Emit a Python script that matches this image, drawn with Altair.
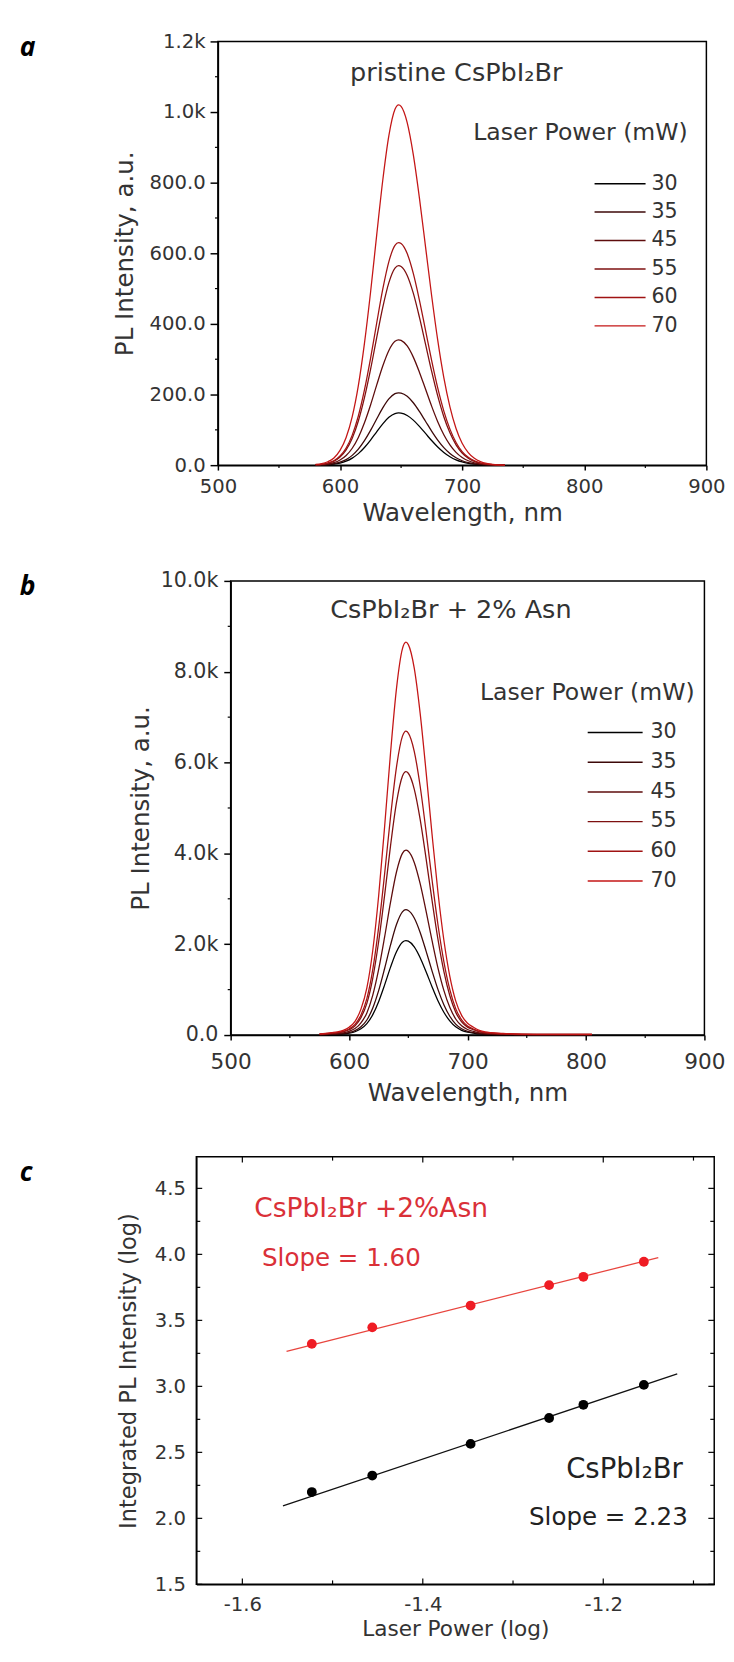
import altair as alt
import pandas as pd

FONT = "DejaVu Sans"
LETTER_FONT = "Open Sans"
INK = "#333333"

# ---------------- data ----------------
powers = ["30", "35", "45", "55", "60", "70"]
curve_colors = ["#000000", "#3c0808", "#5e0c0c", "#7e1010", "#a01313", "#c41616"]

# panel a : pristine CsPbI2Br spectra
wl_a = [580, 585, 590, 595, 600, 605, 610, 615, 620, 625, 630, 635, 640, 645, 648,
        650, 655, 660, 665, 670, 675, 680, 685, 690, 695, 700, 705, 710, 715, 720,
        725, 730, 735]
pl_a_30 = [0.3, 0.6, 1.4, 3.0, 6.1, 11.4, 20.0, 32.7, 50.0, 71.0, 94.4, 117.1, 135.4, 146.2, 148,
           147.4, 140.7, 127.6, 109.8, 89.8, 69.7, 51.4, 36.0, 24.0, 15.1, 9.0, 5.2, 2.8, 1.4, 0.7,
           0.3, 0.1, 0.1]
pl_a_35 = [0.4, 0.8, 1.9, 4.1, 8.4, 15.8, 27.7, 45.3, 69.3, 98.4, 130.8, 162.2, 187.6, 202.5, 205,
           204.2, 195.0, 176.7, 152.1, 124.4, 96.6, 71.1, 49.8, 33.2, 20.9, 12.5, 7.2, 3.9, 2.0, 1.0,
           0.5, 0.2, 0.1]
pl_a_45 = [0.7, 1.4, 3.4, 7.1, 14.6, 27.3, 47.9, 78.5, 120.0, 170.4, 226.5, 280.8, 324.8, 350.7, 355,
           353.6, 337.6, 306.0, 263.4, 215.5, 167.2, 123.2, 86.3, 57.5, 36.2, 21.7, 12.4, 6.7, 3.4, 1.7,
           0.8, 0.4, 0.1]
pl_a_55 = [1.1, 2.3, 5.4, 11.3, 23.2, 43.5, 76.3, 124.9, 191.0, 271.2, 360.5, 446.9, 517.0, 558.2, 565,
           562.7, 537.3, 487.0, 419.2, 343.0, 266.1, 196.1, 137.3, 91.5, 57.6, 34.5, 19.8, 10.7, 5.5, 2.7,
           1.2, 0.6, 0.2]
pl_a_60 = [1.3, 2.5, 6.0, 12.6, 25.8, 48.5, 85.1, 139.2, 212.9, 302.4, 401.9, 498.3, 576.5, 622.4, 630,
           627.5, 599.1, 543.1, 467.5, 382.4, 296.7, 218.6, 153.1, 102.1, 64.3, 38.4, 22.1, 12.0, 6.1, 3.0,
           1.4, 0.6, 0.3]
pl_a_70 = [2.0, 4.1, 9.7, 20.4, 41.8, 78.5, 137.7, 225.4, 344.8, 489.6, 650.8, 806.8, 933.3, 1007.8, 1020,
           1015.9, 970.0, 879.2, 756.8, 619.1, 480.4, 353.9, 247.9, 165.2, 104.0, 62.2, 35.7, 19.4, 9.9, 4.8,
           2.2, 1.0, 0.4]

# panel b : CsPbI2Br + 2% Asn spectra
wl_b = [575, 580, 585, 590, 595, 600, 605, 610, 615, 620, 625, 630, 635, 640, 645, 648,
        650, 655, 660, 665, 670, 675, 680, 685, 690, 695, 700, 705, 710, 715, 720,
        730, 740, 760, 780, 805]
pl_b_30 = [6, 8, 12, 17, 25, 42, 73, 137, 250, 449, 740, 1104, 1496, 1835, 2045, 2080,
           2068, 1943, 1704, 1394, 1065, 757, 503, 312, 181, 104, 62, 42, 25, 17, 12,
           8, 6, 4, 4, 4]
pl_b_35 = [8, 11, 17, 22, 33, 55, 97, 182, 331, 596, 983, 1466, 1984, 2434, 2713, 2760,
           2743, 2578, 2260, 1849, 1413, 1005, 668, 414, 240, 138, 83, 55, 33, 22, 17,
           11, 8, 6, 6, 6]
pl_b_45 = [12, 16, 24, 33, 49, 81, 142, 269, 488, 879, 1449, 2161, 2926, 3590, 4001, 4070,
           4046, 3801, 3333, 2727, 2084, 1481, 985, 611, 354, 204, 122, 81, 49, 33, 24,
           16, 12, 8, 8, 8]
pl_b_55 = [17, 23, 35, 46, 70, 116, 203, 383, 696, 1253, 2065, 3080, 4170, 5116, 5701, 5800,
           5765, 5417, 4750, 3886, 2970, 2111, 1404, 870, 505, 290, 174, 116, 70, 46, 35,
           23, 17, 12, 12, 12]
pl_b_60 = [20, 27, 40, 54, 80, 134, 234, 442, 803, 1445, 2382, 3552, 4810, 5901, 6576, 6690,
           6650, 6248, 5479, 4482, 3425, 2435, 1619, 1004, 582, 335, 201, 134, 80, 54, 40,
           27, 20, 13, 13, 13]
pl_b_70 = [26, 35, 52, 69, 104, 173, 303, 571, 1038, 1868, 3079, 4593, 6219, 7629, 8503, 8650,
           8598, 8079, 7084, 5796, 4429, 3149, 2093, 1298, 753, 433, 260, 173, 104, 69, 52,
           35, 26, 17, 17, 17]

# panel c : log-log integrated PL
log_power = [-1.523, -1.456, -1.347, -1.260, -1.222, -1.155]
log_pl_asn = [3.322, 3.447, 3.612, 3.767, 3.830, 3.944]
log_pl_pristine = [2.199, 2.324, 2.564, 2.760, 2.860, 3.011]
fit_x_asn = [-1.551, -1.139]
fit_y_asn = [3.265, 3.976]
fit_x_pristine = [-1.555, -1.118]
fit_y_pristine = [2.094, 3.095]

# axis ticks
x_ticks_ab = [500, 600, 700, 800, 900]
x_minor_ab = [550, 650, 750, 850]
a_y_ticks = [0, 200, 400, 600, 800, 1000, 1200]
a_y_minor = [100, 300, 500, 700, 900, 1100]
b_y_ticks = [0, 2000, 4000, 6000, 8000, 10000]
b_y_minor = [1000, 3000, 5000, 7000, 9000]
c_x_ticks = [-1.6, -1.4, -1.2]
c_x_minor = [-1.5, -1.3, -1.1]
c_y_ticks = [1.5, 2.0, 2.5, 3.0, 3.5, 4.0, 4.5]
c_y_minor = [1.75, 2.25, 2.75, 3.25, 3.75, 4.25]

RED_PT = "#ef1c24"
RED_LINE = "#e8453e"
RED_TXT = "#da3038"


def one():
    return pd.DataFrame({"k": [0]})


def anchor(xrel, ytop, ybot):
    # invisible rule fixing the panel's outer bounds
    return alt.Chart(one()).mark_rule(opacity=0, strokeWidth=1).encode(
        x=alt.value(xrel), y=alt.value(ytop), y2=alt.value(ybot))


def txt(t, x, y, size, align="left", color=INK, baseline="middle", font=FONT, **kw):
    return alt.Chart(one()).mark_text(text=t, align=align, baseline=baseline, fontSize=size,
                                      color=color, font=font, **kw).encode(
        x=alt.value(x), y=alt.value(y))


def legend_layers(color, y0, dy, x0, x1, xl, fs):
    df = pd.DataFrame({"power": powers, "rank": list(range(len(powers)))})
    base = alt.Chart(df).transform_calculate(ly=f"{y0} + datum.rank * {dy}")
    lines = base.mark_rule(strokeWidth=1.5).encode(
        x=alt.value(x0), x2=alt.value(x1),
        y=alt.Y("ly:Q", scale=None), color=color)
    labels = base.mark_text(align="left", baseline="middle", fontSize=fs, color=INK, font=FONT).encode(
        x=alt.value(xl), y=alt.Y("ly:Q", scale=None), text="power:N")
    return [lines, labels]


def spacer():
    return alt.Chart(one()).mark_point(opacity=0).encode(
        x=alt.value(0), y=alt.value(0)
    ).properties(width=1, height=1, view=alt.ViewBackground(strokeOpacity=0))


def spectrum_panel(wl, series, ymax, y_ticks, y_minor, y_expr, g):
    rows = []
    for p in powers:
        for w, v in zip(wl, series[p]):
            rows.append({"wl": w, "I": v, "power": p})
    df = pd.DataFrame(rows)
    W, H = g["w"], g["h"]
    xs = alt.Scale(domain=[500, 900], nice=False, zero=False)
    ys = alt.Scale(domain=[0, ymax], nice=False)
    xaxis = alt.Axis(values=x_ticks_ab, format="d", title="Wavelength, nm", tickSize=5,
                     labelPadding=g["xlp"], labelFontSize=g["xlfs"], titleFontSize=25,
                     titlePadding=g["xtp"], labelFlush=False, labelOverlap=False)
    yaxis = alt.Axis(values=y_ticks, labelExpr=y_expr, title="PL Intensity, a.u.", tickSize=g["ytk"],
                     labelPadding=g["ylp"], labelFontSize=g["ylfs"], titleFontSize=25,
                     titlePadding=g["ytp"], labelOverlap=False)
    color = alt.Color("power:N", scale=alt.Scale(domain=powers, range=curve_colors), legend=None)
    lines = alt.Chart(df).mark_line(strokeWidth=1.3, interpolate="monotone").encode(
        x=alt.X("wl:Q", scale=xs, axis=xaxis),
        y=alt.Y("I:Q", scale=ys, axis=yaxis),
        color=color,
    )
    xminor = alt.Chart(pd.DataFrame({"wl": x_minor_ab})).mark_rule(color="black", strokeWidth=1.2).encode(
        x=alt.X("wl:Q", scale=xs, axis=xaxis), y=alt.value(H), y2=alt.value(H + 3))
    yminor = alt.Chart(pd.DataFrame({"I": y_minor})).mark_rule(color="black", strokeWidth=1.2).encode(
        y=alt.Y("I:Q", scale=ys, axis=yaxis), x=alt.value(0), x2=alt.value(-3))
    layers = [anchor(-g["ext"], g["at"], g["ab"]), lines, xminor, yminor]
    layers += legend_layers(color, g["ly0"], g["ldy"], g["lx0"], g["lx1"], g["lxl"], g["lfs"])
    layers.append(txt("Laser Power (mW)", g["ltx"], g["lty"], 24, align="right"))
    layers.append(txt(g["title"], g["tx"], g["ty"], 26, align="center"))
    layers.append(txt(g["letter"], -g["ext"], g["lby"], 27, baseline="alphabetic", color="black",
                      font=LETTER_FONT, fontWeight="bold", fontStyle="italic"))
    panel = alt.layer(*layers).properties(width=W, height=H)
    return alt.hconcat(spacer(), panel, spacing=0)


# ---------------- panel a ----------------
geom_a = dict(w=498, h=432, ext=202, at=-12, ab=535, lby=15,
              xlp=7, xlfs=20, xtp=4, ytk=8, ylp=5, ylfs=20, ytp=12,
              ly0=145, ldy=29, lx0=384, lx1=436, lxl=442, lfs=21,
              ltx=479, lty=93, title="pristine CsPbI\u2082Br", tx=243, ty=32, letter="a")
panel_a = spectrum_panel(
    wl_a,
    {"30": pl_a_30, "35": pl_a_35, "45": pl_a_45, "55": pl_a_55, "60": pl_a_60, "70": pl_a_70},
    1200, a_y_ticks, a_y_minor,
    "datum.value >= 1000 ? format(datum.value / 1000, '.1f') + 'k' : format(datum.value, '.1f')",
    geom_a)

# ---------------- panel b ----------------
geom_b = dict(w=483, h=463, ext=215, at=-13, ab=542, lby=14,
              xlp=12, xlfs=22, xtp=9, ytk=7, ylp=6, ylfs=21, ytp=7,
              ly0=154.5, ldy=30.3, lx0=364, lx1=420, lxl=428, lfs=21,
              ltx=473, lty=114.5, title="CsPbI\u2082Br + 2% Asn", tx=224.5, ty=30, letter="b")
panel_b = spectrum_panel(
    wl_b,
    {"30": pl_b_30, "35": pl_b_35, "45": pl_b_45, "55": pl_b_55, "60": pl_b_60, "70": pl_b_70},
    10000, b_y_ticks, b_y_minor,
    "datum.value == 0 ? '0.0' : format(datum.value / 1000, '.1f') + 'k'",
    geom_b)

# ---------------- panel c ----------------
WC, HC = 528, 436
xs_c = alt.Scale(domain=[-1.651, -1.077], nice=False, zero=False)
ys_c = alt.Scale(domain=[1.5, 4.74], nice=False, zero=False)
xaxis_c = alt.Axis(values=c_x_ticks, ticks=False, tickSize=0, labelPadding=11, labelFontSize=20,
                   labelExpr="replace(format(datum.value, '.1f'), '\u2212', '-')",
                   title="Laser Power (log)", titleFontSize=22, titlePadding=4,
                   labelFlush=False, labelOverlap=False)
yaxis_c = alt.Axis(values=c_y_ticks, ticks=False, tickSize=0, labelPadding=11, labelFontSize=20,
                   format=".1f", title="Integrated PL Intensity (log)", titleFontSize=23,
                   titlePadding=14, labelOverlap=False)


def enc_c(chart):
    return chart.encode(x=alt.X("lp:Q", scale=xs_c, axis=xaxis_c),
                        y=alt.Y("li:Q", scale=ys_c, axis=yaxis_c))


fit_asn = enc_c(alt.Chart(pd.DataFrame({"lp": fit_x_asn, "li": fit_y_asn})).mark_line(
    strokeWidth=1.3, color=RED_LINE))
fit_pri = enc_c(alt.Chart(pd.DataFrame({"lp": fit_x_pristine, "li": fit_y_pristine})).mark_line(
    strokeWidth=1.3, color="#111111"))
pts_asn = enc_c(alt.Chart(pd.DataFrame({"lp": log_power, "li": log_pl_asn})).mark_circle(
    size=100, opacity=1, color=RED_PT))
pts_pri = enc_c(alt.Chart(pd.DataFrame({"lp": log_power, "li": log_pl_pristine})).mark_circle(
    size=100, opacity=1, color="#000000"))


def xticks_c(vals, y1, y2):
    return alt.Chart(pd.DataFrame({"lp": vals})).mark_rule(color="black", strokeWidth=1.2).encode(
        x=alt.X("lp:Q", scale=xs_c, axis=xaxis_c), y=alt.value(y1), y2=alt.value(y2))


def yticks_c(vals, x1, x2):
    return alt.Chart(pd.DataFrame({"li": vals})).mark_rule(color="black", strokeWidth=1.2).encode(
        y=alt.Y("li:Q", scale=ys_c, axis=yaxis_c), x=alt.value(x1), x2=alt.value(x2))


EXT_C = 180
panel_c_layer = alt.layer(
    anchor(-EXT_C, -42.5, 492.5),
    fit_asn, fit_pri, pts_asn, pts_pri,
    xticks_c(c_x_ticks, HC, HC - 6), xticks_c(c_x_minor, HC, HC - 4),
    xticks_c(c_x_ticks, 0, 6), xticks_c(c_x_minor, 0, 4),
    yticks_c(c_y_ticks, 0, 6), yticks_c(c_y_minor, 0, 4),
    yticks_c(c_y_ticks, WC, WC - 6), yticks_c(c_y_minor, WC, WC - 4),
    txt("CsPbI\u2082Br +2%Asn", 59, 54, 27, color=RED_TXT),
    txt("Slope = 1.60", 67, 103, 25, color=RED_TXT),
    txt("CsPbI\u2082Br", 496, 320, 28, align="right", color="#222222"),
    txt("Slope = 2.23", 501, 367, 25, align="right", color="#222222"),
    txt("c", -EXT_C, 24.5, 27, baseline="alphabetic", color="black",
        font=LETTER_FONT, fontWeight="bold", fontStyle="italic"),
).properties(width=WC, height=HC)
panel_c = alt.hconcat(spacer(), panel_c_layer, spacing=0)

chart = alt.vconcat(panel_a, panel_b, panel_c, spacing=0).properties(
    padding={"left": 5, "top": 5, "right": 0, "bottom": 0}
).configure_view(
    stroke="black", strokeWidth=1.5
).configure_axis(
    domainColor="black", domainWidth=1.5, tickColor="black", tickWidth=1.5,
    labelColor=INK, titleColor=INK, labelFont=FONT, titleFont=FONT,
    titleFontWeight="normal", grid=False
).configure_text(font=FONT)

chart.save("out.html", embed_options={"renderer": "svg", "actions": False})
